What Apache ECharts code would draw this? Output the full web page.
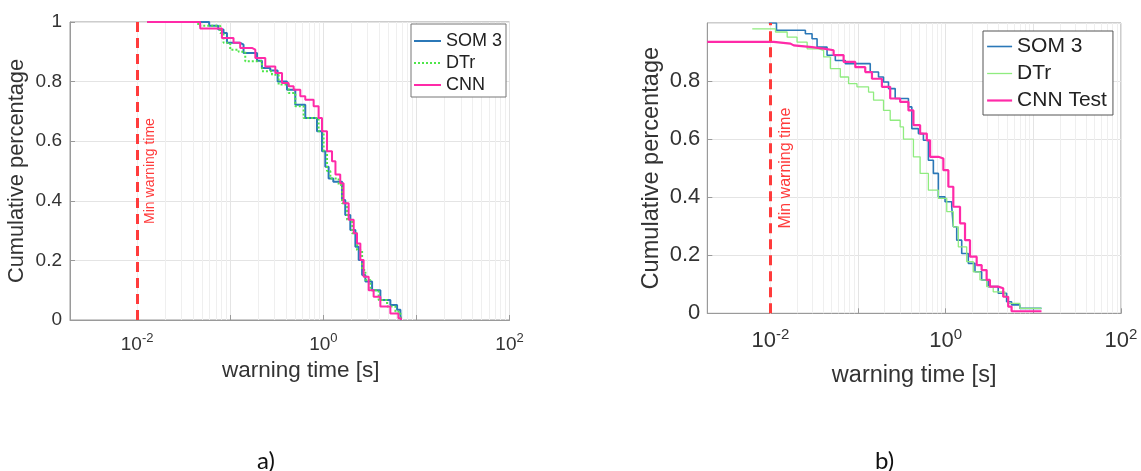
<!DOCTYPE html>
<html><head><meta charset="utf-8">
<script src="https://cdn.jsdelivr.net/npm/echarts@6/dist/echarts.min.js"></script>
<style>html,body{margin:0;padding:0;background:#fff}#c{width:1141px;height:471px}</style>
</head><body><div id="c"></div>
<script>
// ---- axis settings ----
const xMin = 0.0019, xMax = 100;
const yMin = 0, yMax = 1, yStep = 0.2;
const minWarning = 0.01;
const panelLabels = ['a)', 'b)'];
const xTitle = 'warning time [s]';
const yTitle = 'Cumulative percentage';
const markText = 'Min warning time';
const namesA = ['SOM 3', 'DTr', 'CNN'];
const namesB = ['SOM 3', 'DTr', 'CNN Test'];

// ---- panel a) ----
const somA_t = [0.0128,0.0594,0.0743,0.0847,0.0922,0.128,0.139,0.194,0.219,0.269,0.323,0.407,0.500,0.640,0.855,0.968,1.05,1.14,1.28,1.59,1.72,1.95,2.21,2.40,2.61,2.83,3.34,4.10,5.25,6.20,6.73,6.84];
const somA_p = [1,0.987,0.975,0.963,0.93,0.924,0.896,0.87,0.846,0.837,0.80,0.773,0.722,0.678,0.633,0.566,0.514,0.475,0.464,0.403,0.352,0.302,0.246,0.201,0.151,0.129,0.10,0.067,0.05,0.034,0.017,0];
const dtrA_t = [0.0128,0.0453,0.0781,0.0847,0.100,0.123,0.145,0.219,0.281,0.331,0.424,0.500,0.614,0.890,1.007,1.096,1.19,1.46,1.59,1.80,2.04,2.30,2.61,2.83,3.20,3.93,4.84,5.95,6.73,6.90];
const dtrA_p = [1,0.987,0.963,0.93,0.907,0.90,0.868,0.835,0.823,0.79,0.762,0.717,0.678,0.633,0.566,0.50,0.475,0.453,0.392,0.336,0.291,0.235,0.168,0.134,0.10,0.067,0.045,0.028,0.011,0];
const cnnA_t = [0.0128,0.0476,0.0814,0.1085,0.128,0.171,0.186,0.238,0.305,0.360,0.424,0.480,0.566,0.640,0.787,0.890,0.968,1.096,1.24,1.35,1.52,1.65,1.87,2.12,2.30,2.50,2.71,3.07,3.47,4.10,5.25,6.40,6.81];
const cnnA_p = [1,0.978,0.946,0.93,0.913,0.907,0.879,0.851,0.829,0.795,0.784,0.773,0.751,0.739,0.717,0.678,0.633,0.566,0.533,0.488,0.459,0.392,0.336,0.291,0.257,0.201,0.145,0.10,0.078,0.045,0.022,0.006,0];

// ---- panel b) ----
const somB_t = [0.00956,0.0117,0.0250,0.0298,0.0340,0.0442,0.0549,0.0714,0.1375,0.1709,0.1949,0.2221,0.2648,0.3752,0.410,0.4876,0.556,0.6337,0.7225,0.8236,0.9818,1.170,1.22,1.334,1.521,1.808,2.156,2.569,3.054,3.969,4.948,5.641,7.012,12.38];
const somB_p = [1,0.975,0.963,0.946,0.917,0.889,0.871,0.86,0.831,0.814,0.797,0.774,0.74,0.711,0.636,0.619,0.596,0.527,0.482,0.401,0.384,0.367,0.298,0.252,0.206,0.172,0.143,0.115,0.092,0.069,0.04,0.029,0.017,0.017];
const dtrB_t = [0.00619,0.0114,0.0155,0.0201,0.0262,0.0355,0.0404,0.0482,0.0626,0.0778,0.0970,0.1315,0.150,0.1949,0.2323,0.3018,0.3292,0.4278,0.5099,0.6337,0.8236,1.027,1.22,1.391,1.734,2.062,2.457,2.929,3.482,4.732,5.159,7.012,12.38];
const dtrB_p = [0.98,0.969,0.951,0.934,0.911,0.906,0.883,0.843,0.814,0.791,0.78,0.762,0.734,0.699,0.665,0.642,0.6,0.539,0.482,0.424,0.396,0.35,0.298,0.229,0.178,0.143,0.115,0.092,0.074,0.057,0.034,0.017,0.017];
const cnnB_t = [0.0019,0.0109,0.0169,0.0184,0.0298,0.0423,0.0525,0.0683,0.0928,0.1206,0.1438,0.1868,0.2323,0.3018,0.3752,0.4278,0.5099,0.6077,0.6627,0.8236,0.939,1.071,1.22,1.455,1.659,1.891,2.254,2.569,2.929,3.193,3.969,4.526,5.159,5.641,12.38];
const cnnB_p = [0.935,0.929,0.923,0.917,0.911,0.906,0.889,0.866,0.848,0.831,0.808,0.78,0.74,0.728,0.699,0.648,0.619,0.596,0.539,0.533,0.493,0.436,0.367,0.31,0.252,0.195,0.166,0.149,0.115,0.092,0.086,0.057,0.023,0.007,0.007];

const C_SOM = '#2b78b8', C_DTR_A = '#4fe64a', C_DTR_B = '#8fec7f', C_CNN = '#ff2aa8', C_RED = '#ff3b3b';
const FONT = 'Liberation Sans';

function pairs(t, p) { return t.map((v, i) => [v, p[i]]); }
const minorVals = [];
for (let k = -3; k <= 1; k++) for (let m = 2; m <= 9; m++) { const v = m * Math.pow(10, k); if (v > xMin && v < xMax) minorVals.push(v); }

function expLabel(v) {
  const e = Math.log10(v), r = Math.round(e);
  if (Math.abs(e - r) > 1e-6 || r % 2 !== 0) return '';
  return '{b|10}{s|' + r + '}';
}

function xAxisCfg(idx, fs, sfs, margin, nameGap, nameFs, namePad) {
  return {
    type: 'log', logBase: 10, gridIndex: idx, min: xMin, max: xMax,
    name: xTitle, nameLocation: 'middle', nameGap: nameGap,
    nameTextStyle: { fontSize: nameFs, color: '#333', fontFamily: FONT, padding: namePad },
    axisLine: { show: true, lineStyle: { color: '#9a9a9a' } },
    axisTick: { show: true, inside: true, length: 5, lineStyle: { color: '#9a9a9a' } },
    splitLine: { show: true, lineStyle: { color: '#e4e4e4', width: 1 } },
    axisLabel: {
      margin: margin, formatter: expLabel, showMinLabel: false,
      rich: {
        b: { fontSize: fs, color: '#333', fontFamily: FONT, verticalAlign: 'bottom' },
        s: { fontSize: sfs, color: '#333', fontFamily: FONT, verticalAlign: 'bottom', padding: [0, 0, Math.round(fs * 0.45), 0] }
      }
    }
  };
}
function yAxisCfg(idx, fs, margin, nameGap, nameFs, showMax) {
  return {
    type: 'value', gridIndex: idx, min: yMin, max: yMax, interval: yStep,
    name: yTitle, nameLocation: 'middle', nameGap: nameGap,
    nameTextStyle: { fontSize: nameFs, color: '#333', fontFamily: FONT },
    axisLine: { show: true, lineStyle: { color: '#9a9a9a' } },
    axisTick: { show: true, inside: true, length: 5, lineStyle: { color: '#9a9a9a' } },
    splitLine: { show: true, lineStyle: { color: '#e4e4e4' } },
    axisLabel: { fontSize: fs, color: '#333', fontFamily: FONT, margin: margin, showMaxLabel: showMax,
      formatter: v => String(Math.round(v * 10) / 10) }
  };
}
function gridHelper(idx) {
  return {
    type: 'line', xAxisIndex: idx, yAxisIndex: idx, data: [], silent: true, z: 1,
    markLine: {
      silent: true, symbol: 'none', animation: false, z: 1,
      lineStyle: { color: '#efefef', type: 'solid', width: 1 },
      label: { show: false }, emphasis: { disabled: true },
      data: minorVals.map(v => ({ xAxis: v }))
    }
  };
}
function redLine(idx, labelFs, labelDist) {
  return {
    type: 'line', xAxisIndex: idx, yAxisIndex: idx, data: [], silent: true, z: 6,
    markLine: {
      silent: true, symbol: 'none', animation: false,
      lineStyle: { color: C_RED, type: [10, 6], width: 3 },
      emphasis: { disabled: true },
      label: { show: true, position: 'insideMiddleBottom', formatter: markText, color: C_RED, fontSize: labelFs, fontFamily: FONT, distance: labelDist },
      data: [{ xAxis: minWarning }]
    }
  };
}
function curve(name, idx, t, p, color, width, type) {
  return { name: name, type: 'line', xAxisIndex: idx, yAxisIndex: idx, step: 'end', symbol: 'none', showSymbol: false, z: 3,
    data: pairs(t, p), lineStyle: { color: color, width: width, type: type || 'solid' }, itemStyle: { color: color },
    emphasis: { disabled: true }, animation: false };
}
function legItem(name, color, width, type) {
  return { name: name, itemStyle: { opacity: 0 }, lineStyle: { color: color, width: width, type: type || 'solid', opacity: 1 } };
}

const chart = echarts.init(document.getElementById('c'), null, { renderer: 'canvas' });
chart.setOption({
  backgroundColor: '#fff',
  animation: false,
  textStyle: { fontFamily: FONT },
  title: [
    { text: panelLabels[0], left: 252, top: 444, textStyle: { fontSize: 24, fontWeight: 'normal', color: '#111', fontFamily: 'Lato' } },
    { text: panelLabels[1], left: 870, top: 444, textStyle: { fontSize: 24, fontWeight: 'normal', color: '#111', fontFamily: 'Lato' } }
  ],
  grid: [
    { left: 70, top: 22, width: 439.5, height: 298, show: true, borderColor: '#9a9a9a', borderWidth: 1, backgroundColor: 'transparent' },
    { left: 707.3, top: 23, width: 413.7, height: 290.3, show: true, borderColor: '#9a9a9a', borderWidth: 1, backgroundColor: 'transparent' }
  ],
  xAxis: [ xAxisCfg(0, 19, 13, 12, 34, 22.5, [0, 0, 0, 22]), xAxisCfg(1, 22, 15, 14, 50, 23.5, [0, 0, 0, 0]) ],
  yAxis: [ yAxisCfg(0, 19, 8, 42, 21.8, true), yAxisCfg(1, 22, 7, 44, 23.6, false) ],
  legend: [
    { orient: 'vertical', left: 411, top: 24, padding: [8, 4, 3, 2], itemGap: 4, itemWidth: 27, itemHeight: 14,
      backgroundColor: '#fff', borderColor: '#777', borderWidth: 1, selectedMode: false,
      textStyle: { fontSize: 18, color: '#222', fontFamily: FONT },
      data: [ legItem(namesA[0], C_SOM, 2), legItem(namesA[1], C_DTR_A, 2, [2, 2]), legItem(namesA[2], C_CNN, 2) ] },
    { orient: 'vertical', left: 983, top: 31, padding: [5, 6, 4, 3], itemGap: 6, itemWidth: 25, itemHeight: 14,
      backgroundColor: '#fff', borderColor: '#555', borderWidth: 1, selectedMode: false,
      textStyle: { fontSize: 21, color: '#222', fontFamily: FONT },
      data: [ legItem(namesB[0], C_SOM, 1.6), legItem(namesB[1], C_DTR_B, 1.3), legItem(namesB[2], C_CNN, 2.2) ] }
  ],
  series: [
    gridHelper(0), gridHelper(1),
    curve(namesA[0], 0, somA_t, somA_p, C_SOM, 2),
    curve(namesA[1], 0, dtrA_t, dtrA_p, C_DTR_A, 2, [2, 2]),
    curve(namesA[2], 0, cnnA_t, cnnA_p, C_CNN, 2),
    curve(namesB[0], 1, somB_t, somB_p, C_SOM, 1.6),
    curve(namesB[1], 1, dtrB_t, dtrB_p, C_DTR_B, 1.3),
    curve(namesB[2], 1, cnnB_t, cnnB_p, C_CNN, 2.2),
    redLine(0, 14, 6), redLine(1, 16, 7)
  ]
});
</script></body></html>
